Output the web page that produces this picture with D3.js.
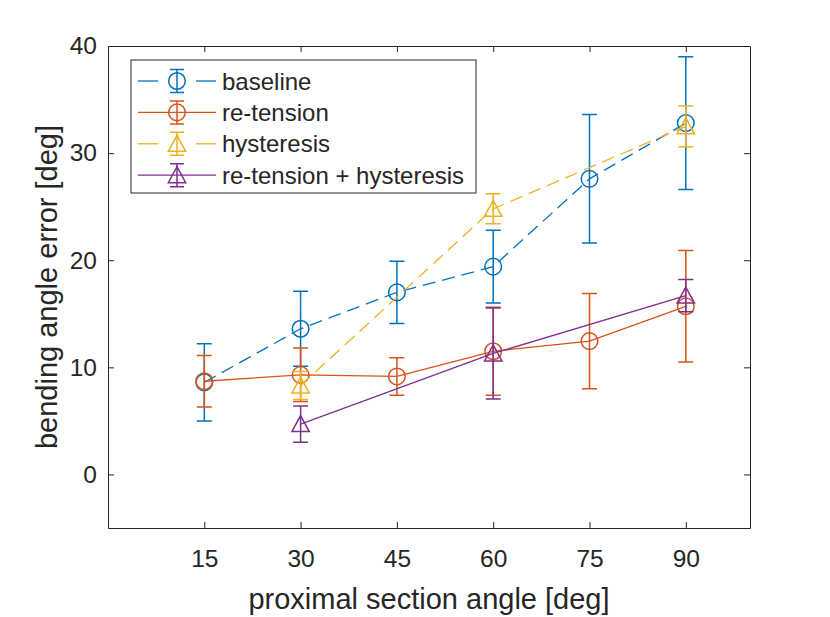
<!DOCTYPE html>
<html>
<head>
<meta charset="utf-8">
<script src="https://cdn.jsdelivr.net/npm/d3@7"></script>
<style>
  body { margin: 0; background: #fff; }
  text { font-family: "Liberation Sans", Arial, sans-serif; fill: #262626; }
</style>
</head>
<body>
<div id="chart"></div>
<script>
// values
const xTicks = [15, 30, 45, 60, 75, 90];
const yTicks = [0, 10, 20, 30, 40];

const baselineX = [15, 30, 45, 60, 75, 90];
const baselineY = [8.6, 13.6, 17.0, 19.4, 27.6, 32.8];
const baselineErr = [3.6, 3.5, 2.9, 3.4, 6.0, 6.2];

const retensionX = [15, 30, 45, 60, 75, 90];
const retensionY = [8.7, 9.3, 9.15, 11.5, 12.45, 15.7];
const retensionErr = [2.4, 2.5, 1.75, 4.1, 4.45, 5.2];

const hysteresisX = [30, 60, 90];
const hysteresisY = [8.3, 24.8, 32.5];
const hysteresisErr = [1.3, 1.4, 1.9];

const retHystX = [30, 60, 90];
const retHystY = [4.7, 11.3, 16.7];
const retHystErr = [1.7, 4.25, 1.5];

const seriesNames = ["baseline", "re-tension", "hysteresis", "re-tension + hysteresis"];
const seriesColors = ["#0072BD", "#D95319", "#EDB120", "#7E2F8E"];
const seriesDash = ["13,7", null, "13,7", null];
const seriesMarker = ["circle", "circle", "triangle", "triangle"];

const series = [
  {x: baselineX, y: baselineY, e: baselineErr},
  {x: retensionX, y: retensionY, e: retensionErr},
  {x: hysteresisX, y: hysteresisY, e: hysteresisErr},
  {x: retHystX, y: retHystY, e: retHystErr}
].map((s, i) => ({
  name: seriesNames[i], color: seriesColors[i], dash: seriesDash[i], marker: seriesMarker[i],
  pts: s.x.map((xv, j) => ({x: xv, y: s.y[j], e: s.e[j]}))
}));

const W = 830, H = 617;
const margin = {top: 46, right: 80, bottom: 89, left: 108};

const svg = d3.select("#chart").append("svg")
  .attr("width", W).attr("height", H);

const xScale = d3.scaleLinear().domain([0, 100]).range([margin.left, W - margin.right]);
const yScale = d3.scaleLinear().domain([-5, 40]).range([H - margin.bottom, margin.top]);

const axisColor = "#262626";
const tickLen = 6;

// axes (ticks inward, box with mirrored ticks)
const xAxis = svg.append("g")
  .attr("transform", `translate(0,${yScale(-5)})`)
  .call(d3.axisBottom(xScale).tickValues(xTicks).tickSizeInner(-tickLen).tickSizeOuter(0).tickPadding(22));
const yAxis = svg.append("g")
  .attr("transform", `translate(${xScale(0)},0)`)
  .call(d3.axisLeft(yScale).tickValues(yTicks).tickSizeInner(-tickLen).tickSizeOuter(0).tickPadding(11));
const xTop = svg.append("g")
  .attr("transform", `translate(0,${yScale(40)})`)
  .call(d3.axisTop(xScale).tickValues(xTicks).tickSizeInner(-tickLen).tickSizeOuter(0).tickFormat(""));
const yRight = svg.append("g")
  .attr("transform", `translate(${xScale(100)},0)`)
  .call(d3.axisRight(yScale).tickValues(yTicks).tickSizeInner(-tickLen).tickSizeOuter(0).tickFormat(""));

[xAxis, yAxis, xTop, yRight].forEach(g => {
  g.selectAll("path.domain").attr("stroke", axisColor).attr("stroke-width", 1);
  g.selectAll(".tick line").attr("stroke", axisColor).attr("stroke-width", 1);
  g.selectAll(".tick text").style("font-size", "24.5px").attr("fill", axisColor)
    .style("font-family", "'Liberation Sans', Arial, sans-serif");
});

svg.append("text")
  .attr("x", (xScale(0) + xScale(100)) / 2)
  .attr("y", 609)
  .attr("text-anchor", "middle")
  .style("font-size", "29px")
  .text("proximal section angle [deg]");

svg.append("text")
  .attr("transform", `translate(57,${(yScale(-5) + yScale(40)) / 2}) rotate(-90)`)
  .attr("text-anchor", "middle")
  .style("font-size", "29px")
  .text("bending angle error [deg]");

const plot = svg.append("g");
const line = d3.line().x(d => xScale(d.x)).y(d => yScale(d.y));
const capW = 7.5;

function drawMarker(g, type, cx, cy, color) {
  if (type === "circle") {
    g.append("circle").attr("cx", cx).attr("cy", cy).attr("r", 8.3)
      .attr("fill", "none").attr("stroke", color).attr("stroke-width", 1.5);
  } else {
    g.append("path")
      .attr("d", `M${cx},${cy - 8.5}L${cx + 8.7},${cy + 7.5}L${cx - 8.7},${cy + 7.5}Z`)
      .attr("fill", "none").attr("stroke", color).attr("stroke-width", 1.5);
  }
}

series.forEach(s => {
  const g = plot.append("g");
  g.append("path").datum(s.pts)
    .attr("d", line)
    .attr("fill", "none")
    .attr("stroke", s.color)
    .attr("stroke-width", 1.3)
    .attr("stroke-dasharray", s.dash);
  s.pts.forEach(p => {
    const x = xScale(p.x), y0 = yScale(p.y - p.e), y1 = yScale(p.y + p.e);
    g.append("path")
      .attr("d", `M${x},${y0}L${x},${y1}M${x - capW},${y0}L${x + capW},${y0}M${x - capW},${y1}L${x + capW},${y1}`)
      .attr("stroke", s.color).attr("stroke-width", 1.5).attr("fill", "none");
    drawMarker(g, s.marker, x, yScale(p.y), s.color);
  });
});

// legend
const lg = svg.append("g");
const lx = 131, ly = 60, lw = 345, lh = 133;
lg.append("rect").attr("x", lx).attr("y", ly).attr("width", lw).attr("height", lh)
  .attr("fill", "#fff").attr("stroke", axisColor).attr("stroke-width", 1);
series.forEach((s, i) => {
  const cy = 81 + i * 31.4;
  const g = lg.append("g");
  if (s.dash) {
    g.append("line").attr("x1", 138).attr("x2", 158).attr("y1", cy).attr("y2", cy)
      .attr("stroke", s.color).attr("stroke-width", 1.3);
    g.append("line").attr("x1", 196).attr("x2", 216).attr("y1", cy).attr("y2", cy)
      .attr("stroke", s.color).attr("stroke-width", 1.3);
  } else {
    g.append("line").attr("x1", 138).attr("x2", 216).attr("y1", cy).attr("y2", cy)
      .attr("stroke", s.color).attr("stroke-width", 1.3);
  }
  const mx = 177;
  g.append("path")
    .attr("d", `M${mx},${cy - 11.5}L${mx},${cy + 11.5}M${mx - 7},${cy - 11.5}L${mx + 7},${cy - 11.5}M${mx - 7},${cy + 11.5}L${mx + 7},${cy + 11.5}`)
    .attr("stroke", s.color).attr("stroke-width", 1.5).attr("fill", "none");
  drawMarker(g, s.marker, mx, cy, s.color);
  g.append("text").attr("x", 222).attr("y", cy + 8.5)
    .style("font-size", "24px").attr("fill", "#000")
    .text(s.name);
});
</script>
</body>
</html>
